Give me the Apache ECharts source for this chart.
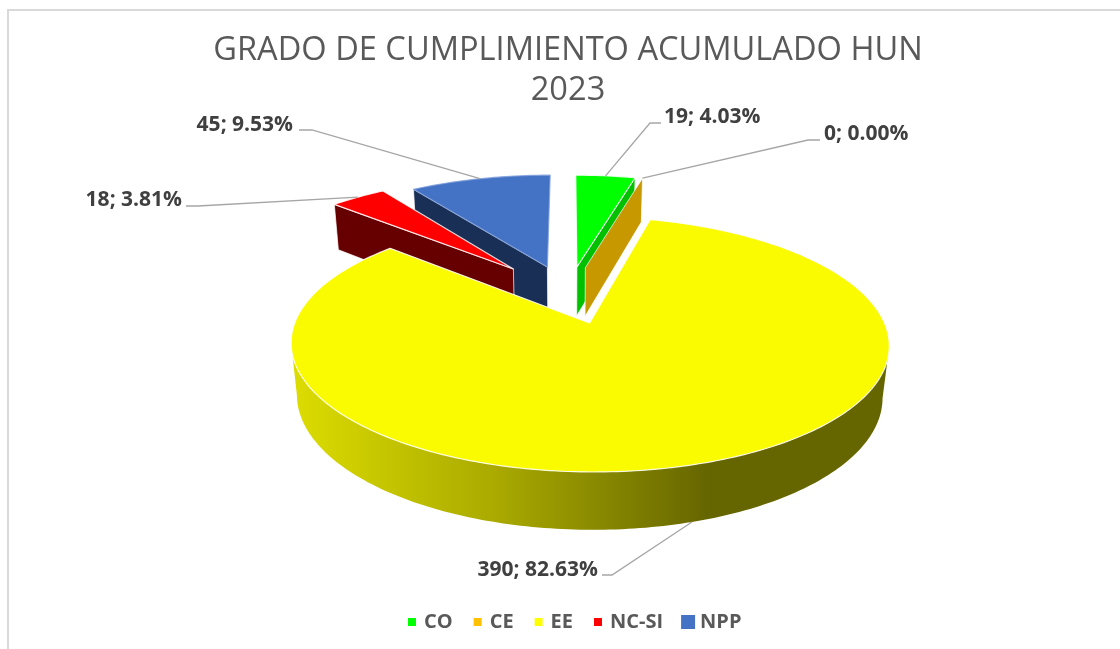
<!DOCTYPE html>
<html><head><meta charset="utf-8">
<style>html,body{margin:0;padding:0;background:#fff}#c{width:1120px;height:649px}</style>
<script src="https://cdn.jsdelivr.net/npm/echarts@6/dist/echarts.min.js"></script>
</head><body><div id="c"></div>
<script>
const titleLines = ['GRADO DE CUMPLIMIENTO ACUMULADO HUN', '2023'];
const categories = ['CO', 'CE', 'EE', 'NC-SI', 'NPP'];
const values = [19, 0, 390, 18, 45];
const colors = ['#00FF00', '#FFC000', '#FFFF00', '#FF0000', '#4472C4'];
const topColors = ['#00FF00', '#FFC000', '#FBFB00', '#FF0000', '#4472C4'];
const wallColors = ['#00C000', '#C89800', '#666600', '#660000', '#1A2F55'];
const explodeBy = [0.25, 0.25, 0.25, 0.305, 0.26];

// camera of the tilted pie
const CAM = {x0: 568.3, y0: 294.4, sx: 283.5, sy: 114.7, k: 0.161, m: 0.02, h: 51};
// leader elbows, ends and text anchors per category
const LABELS = {
  'CO':    {elbow: [650, 123], end: [661, 123], text: [664, 117.5], align: 'left'},
  'CE':    {elbow: [808, 140], end: [820, 140], text: [824, 134.5], align: 'left'},
  'EE':    {elbow: [612, 575], end: [602, 575], text: [598, 570.5], align: 'right', fromBase: true},
  'NC-SI': {elbow: [198, 206], end: [186, 206], text: [182, 200.5], align: 'right'},
  'NPP':   {elbow: [312, 130], end: [299, 130], text: [293, 125.5], align: 'right'}
};
const total = values.reduce((a, b) => a + b, 0);
const startOf = i => values.slice(0, i).reduce((a, b) => a + b, 0) / total * Math.PI * 2;

function project(u, v, base) {
  const d = 1 + CAM.k * v + (base ? CAM.m : 0);
  return [CAM.x0 + CAM.sx * u / d, CAM.y0 - (CAM.sy * v - (base ? CAM.h : 0)) / d];
}
function rim(i, val, steps, base) {
  const a0 = startOf(i), a1 = a0 + val / total * Math.PI * 2, mid = (a0 + a1) / 2;
  const ox = Math.sin(mid) * explodeBy[i], oy = Math.cos(mid) * explodeBy[i];
  const pts = [];
  for (let s = 0; s <= steps; s++) {
    const a = a0 + (a1 - a0) * s / steps;
    pts.push(project(ox + Math.sin(a), oy + Math.cos(a), base));
  }
  return {pts, a0, a1, mid, apex: project(ox, oy, base),
          midPt: project(ox + Math.sin(mid), oy + Math.cos(mid), base)};
}
const wallGradient = new echarts.graphic.LinearGradient(295, 0, 707, 0,
  [{offset: 0, color: '#DCDC00'}, {offset: 0.5, color: '#A8A800'}, {offset: 1, color: '#666600'}], true);

function renderSlice(i) {
  return function (params, api) {
    const val = api.value(0);
    const steps = Math.max(2, Math.ceil(val / total * 360));
    const top = rim(i, val, steps, false), bot = rim(i, val, steps, true);
    const kids = [];
    const isBig = val / total > 0.5;
    const wallStyle = {fill: wallColors[i], stroke: 'rgba(255,255,255,0.7)', lineWidth: 1, lineJoin: 'round'};
    const poly = (points, style) => kids.push({type: 'polygon', shape: {points}, style});
    const n = top.pts.length - 1;
    if (isBig) {
      // near-facing outer wall between the rim's left and right extremes
      const xs = top.pts.map(p => p[0]);
      const r = xs.indexOf(Math.max(...xs)), l = xs.indexOf(Math.min(...xs));
      poly(top.pts.slice(r, l + 1).concat(bot.pts.slice(r, l + 1).reverse()), {fill: wallGradient});
    } else {
      if (Math.sin(top.a1) > 0.01) poly([top.apex, top.pts[n], bot.pts[n], bot.apex], wallStyle);
      if (Math.sin(top.a0) < -0.01) poly([top.apex, top.pts[0], bot.pts[0], bot.apex], wallStyle);
    }
    poly([top.apex].concat(top.pts), {fill: topColors[i],
      stroke: val ? (i === 4 ? 'rgba(130,160,220,0.8)' : 'rgba(255,255,255,0.85)') : 'none', lineWidth: 1.2, lineJoin: 'round'});
    const lab = LABELS[categories[i]];
    const from = lab.fromBase ? bot.midPt : top.midPt;
    kids.push({type: 'polyline', shape: {points: [from, lab.elbow, lab.end]},
      style: {fill: 'none', stroke: '#A6A6A6', lineWidth: 1.3}});
    kids.push({type: 'text', x: lab.text[0], y: lab.text[1], style: {
      text: val + '; ' + (val / total * 100).toFixed(2) + '%',
      font: 'bold 21px "Open Sans"', fill: '#404040', align: lab.align, verticalAlign: 'middle'}});
    return {type: 'group', children: kids};
  };
}
const paintOrder = {'NPP': 1, 'NC-SI': 2, 'CO': 3, 'CE': 4, 'EE': 5};
const legendIcon = 'path://M0 0L0 0M14 14L14 14M3 3H11V11H3Z';

const chart = echarts.init(document.getElementById('c'), null, {renderer: 'canvas'});
chart.setOption({
  animation: false,
  backgroundColor: '#fff',
  title: {text: titleLines.join('\n'), left: 563, top: 26, textAlign: 'center',
    textStyle: {fontFamily: '"Open Sans"', fontWeight: 'normal', fontSize: 32.6, lineHeight: 40, color: '#595959'}},
  legend: {
    bottom: 17, left: 405, padding: 0, itemWidth: 14, itemHeight: 14, itemGap: 18,
    textStyle: {fontFamily: '"Open Sans"', fontWeight: 'bold', fontSize: 20, color: '#595959'},
    data: categories.map(name => ({name, icon: name === 'NPP' ? 'rect' : legendIcon}))
  },
  graphic: [
    {type: 'polyline', shape: {points: [[8, 649], [8, 10], [1120, 10]]}, style: {fill: 'none', stroke: '#D9D9D9', lineWidth: 2}}
  ],
  series: categories.map((name, i) => ({
    type: 'custom', name, coordinateSystem: 'none', z: paintOrder[name],
    itemStyle: {color: colors[i]},
    renderItem: renderSlice(i),
    data: [values[i]]
  }))
});
</script></body></html>
